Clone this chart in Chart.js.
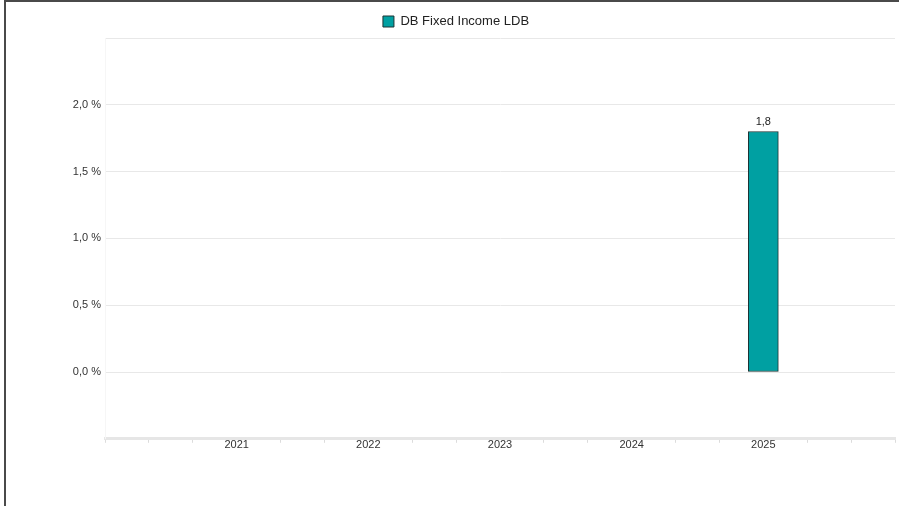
<!DOCTYPE html>
<html>
<head>
<meta charset="utf-8">
<script src="https://cdn.jsdelivr.net/npm/chart.js@4"></script>
<style>
  html, body { margin: 0; padding: 0; background: #fff; overflow: hidden; }
  #marco {
    position: absolute; left: 4px; top: 0px;
    width: 920px; height: 530px;
    border-left: 2px solid #4a4a4a; border-top: 2px solid #4a4a4a;
  }
  #caja { position: absolute; left: 0; top: 0; width: 900px; height: 510px; }
</style>
</head>
<body>
<div id="marco"><div id="caja"><canvas id="grafico"></canvas></div></div>
<script>
  // datos del gráfico
  const anios = [2021, 2022, 2023, 2024, 2025];
  const rentabilidad = [null, null, null, null, 1.8];
  const serie = 'DB Fixed Income LDB';
  const ticksY = [0, 0.5, 1, 1.5, 2];

  const coma = v => v.toFixed(1).replace('.', ',');

  // etiqueta de valor encima de cada barra
  const etiquetas = {
    id: 'etiquetas',
    afterDatasetsDraw(chart) {
      const ctx = chart.ctx;
      const meta = chart.getDatasetMeta(0);
      ctx.save();
      ctx.font = '11px "Liberation Sans", Arial, sans-serif';
      ctx.fillStyle = '#222';
      ctx.textAlign = 'center';
      ctx.textBaseline = 'bottom';
      meta.data.forEach((bar, i) => {
        const v = rentabilidad[i];
        if (v === null) return;
        ctx.fillText(coma(v), bar.x, bar.y - 4);
      });
      ctx.restore();
    }
  };

  Chart.defaults.font.family = '"Liberation Sans", Arial, sans-serif';
  Chart.defaults.color = '#333';

  new Chart(document.getElementById('grafico').getContext('2d'), {
    type: 'bar',
    data: {
      datasets: [{
        label: serie,
        data: anios.map((a, i) => ({ x: a, y: rentabilidad[i] })),
        backgroundColor: '#00a0a2',
        borderColor: '#1c3434',
        borderWidth: 1,
        borderSkipped: false,
        barThickness: 30
      }]
    },
    options: {
      responsive: true,
      maintainAspectRatio: false,
      animation: false,
      layout: { padding: { top: 3, left: 11, right: 11, bottom: 64 } },
      plugins: {
        legend: {
          position: 'top',
          labels: { boxWidth: 11, boxHeight: 11, color: '#222', font: { size: 13 } }
        },
        tooltip: { enabled: false }
      },
      scales: {
        x: {
          type: 'linear',
          offset: false,
          min: anios[0] - 1,
          max: anios[anios.length - 1] + 1,
          afterBuildTicks: scale => {
            const t = [];
            for (let i = 0; i <= (scale.max - scale.min) * 3; i++) t.push({ value: scale.min + i / 3 });
            scale.ticks = t;
          },
          ticks: {
            autoSkip: false,
            maxRotation: 0,
            padding: -4,
            font: { size: 11 },
            color: '#333',
            callback: v => {
              const r = Math.round(v);
              return (Math.abs(v - r) < 1e-6 && anios.includes(r)) ? String(r) : '';
            }
          },
          grid: {
            offset: false,
            drawOnChartArea: false,
            tickLength: 4,
            tickColor: c => {
              const v = c.tick ? c.tick.value : 0;
              const r = Math.round(v);
              return (Math.abs(v - r) < 1e-6 && anios.includes(r)) ? 'rgba(0,0,0,0)' : '#dcdcdc';
            }
          },
          border: { color: '#e6e6e6', width: 3 }
        },
        y: {
          min: -0.5,
          max: 2.5,
          afterFit: scale => { scale.width = 88; },
          ticks: {
            stepSize: 0.5,
            padding: 4,
            font: { size: 11 },
            color: '#333',
            callback: v => ticksY.includes(v) ? coma(v) + ' %' : ''
          },
          grid: { color: '#e8e8e8', drawTicks: false },
          border: { color: '#f6f6f6' }
        }
      }
    },
    plugins: [etiquetas]
  });
</script>
</body>
</html>
